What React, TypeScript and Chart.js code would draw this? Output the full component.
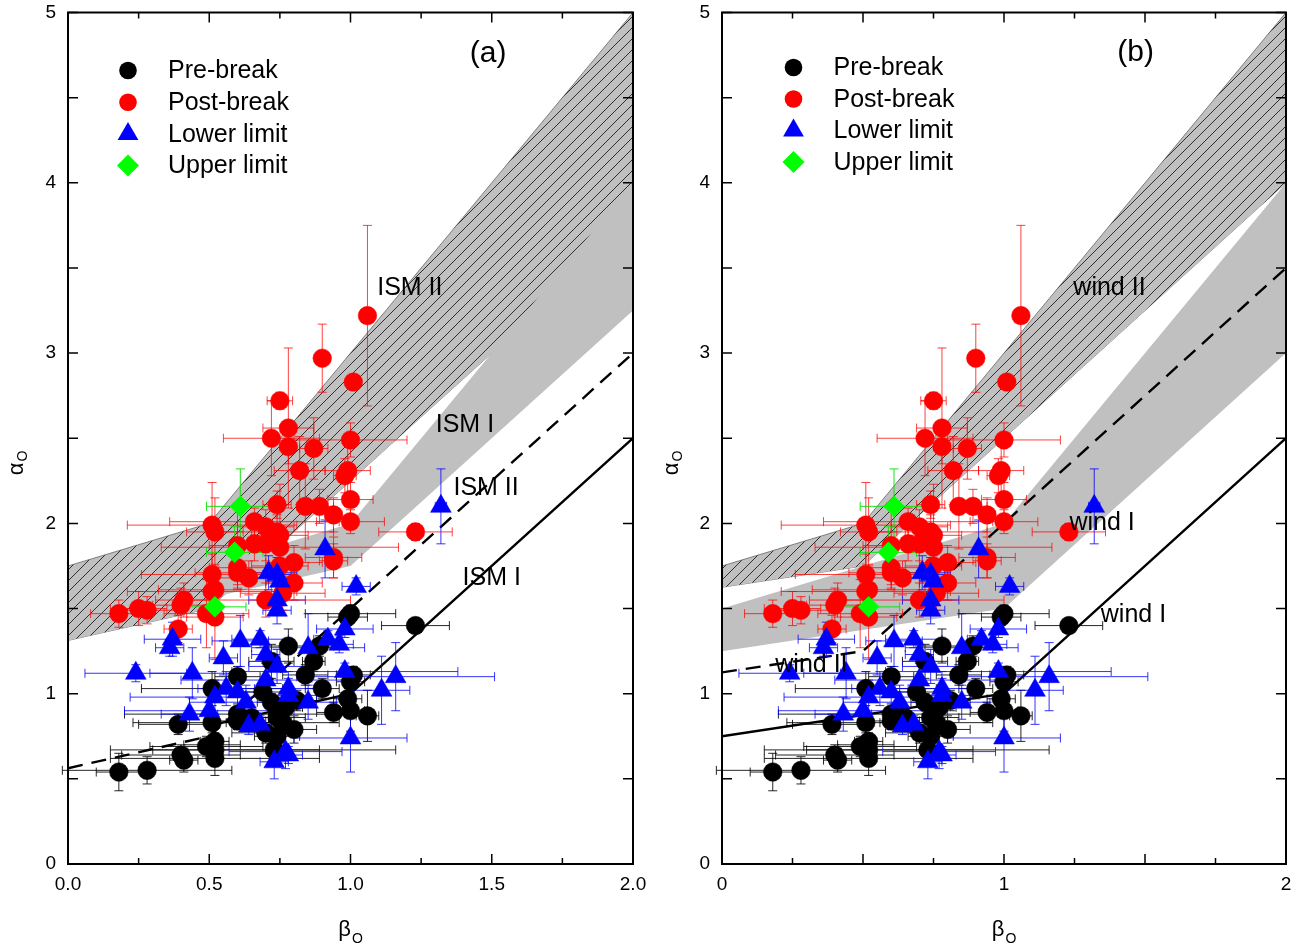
import React, { useEffect, useRef } from 'react';
import { Chart, registerables } from 'chart.js';

Chart.register(...registerables);

const FONT = '"Liberation Sans", Arial, Helvetica, sans-serif';

// ---------------- observed sample (same in both panels) ----------------
const seriesNames = ['Pre-break', 'Post-break', 'Lower limit', 'Upper limit'];

const preX = [0.18, 0.28, 0.41, 0.40, 0.52, 0.52, 0.49, 0.52, 0.51, 0.39, 0.51, 0.60, 0.51, 0.60, 0.78, 0.89, 0.87, 0.84, 0.90, 1.00, 0.99, 1.23, 1.01, 1.00, 0.94, 1.00, 1.06, 0.99, 0.72, 0.69, 0.74, 0.70, 0.74, 0.80, 0.76, 0.73, 0.81, 0.60, 0.65, 0.77, 0.72];
const preY = [0.54, 0.55, 0.61, 0.64, 0.62, 0.67, 0.69, 0.72, 0.70, 0.82, 0.83, 0.84, 1.03, 1.10, 1.28, 1.28, 1.19, 1.11, 1.03, 1.47, 1.45, 1.40, 1.11, 1.07, 0.89, 0.90, 0.87, 0.97, 1.19, 1.01, 0.86, 0.77, 0.75, 0.79, 0.83, 0.67, 0.96, 0.88, 0.86, 0.92, 0.95];
const preXErr = [0.08, 0.30, 0.05, 0.21, 0.37, 0.37, 0.20, 0.05, 0.10, 0.14, 0.28, 0.10, 0.25, 0.08, 0.07, 0.05, 0.04, 0.08, 0.06, 0.16, 0.07, 0.12, 0.06, 0.05, 0.06, 0.05, 0.04, 0.05, 0.08, 0.10, 0.10, 0.12, 0.08, 0.08, 0.20, 0.43, 0.07, 0.40, 0.06, 0.06, 0.05];
const preYErr = [0.11, 0.08, 0.07, 0.06, 0.10, 0.05, 0.06, 0.05, 0.05, 0.06, 0.06, 0.05, 0.10, 0.06, 0.10, 0.06, 0.06, 0.06, 0.06, 0.05, 0.05, 0.04, 0.05, 0.08, 0.06, 0.12, 0.15, 0.08, 0.10, 0.05, 0.06, 0.06, 0.06, 0.08, 0.06, 0.07, 0.06, 0.06, 0.06, 0.07, 0.05];

const postX = [1.06, 0.90, 1.01, 0.75, 0.78, 0.72, 0.78, 0.87, 1.00, 0.82, 0.99, 0.98, 0.74, 0.84, 0.89, 0.94, 1.00, 1.00, 0.51, 0.52, 0.66, 0.70, 0.74, 0.75, 1.23, 0.94, 0.80, 0.66, 0.60, 0.70, 0.75, 0.51, 0.60, 0.51, 0.52, 0.60, 0.64, 0.75, 0.80, 0.70, 0.76, 0.18, 0.25, 0.28, 0.40, 0.41, 0.39, 0.49, 0.52, 0.94];
const postY = [3.22, 2.97, 2.83, 2.72, 2.56, 2.50, 2.45, 2.44, 2.49, 2.31, 2.31, 2.28, 2.11, 2.10, 2.10, 2.05, 2.14, 2.01, 1.99, 1.95, 2.01, 1.98, 1.95, 1.93, 1.95, 1.80, 1.77, 1.88, 1.87, 1.88, 1.86, 1.70, 1.74, 1.60, 1.61, 1.71, 1.68, 1.75, 1.65, 1.55, 1.59, 1.47, 1.50, 1.49, 1.52, 1.55, 1.38, 1.47, 1.45, 1.78];
const postXErr = [0.02, 0.01, 0.01, 0.045, 0.09, 0.17, 0.03, 0.05, 0.20, 0.09, 0.08, 0.04, 0.05, 0.03, 0.05, 0.03, 0.08, 0.12, 0.30, 0.10, 0.30, 0.10, 0.20, 0.10, 0.13, 0.10, 0.10, 0.08, 0.10, 0.06, 0.42, 0.25, 0.10, 0.30, 0.20, 0.15, 0.15, 0.10, 0.10, 0.30, 0.15, 0.10, 0.10, 0.10, 0.10, 0.10, 0.05, 0.15, 0.10, 0.05];
const postYErr = [0.53, 0.20, 0.02, 0.05, 0.47, 0.22, 0.10, 0.18, 0.10, 0.20, 0.15, 0.10, 0.08, 0.25, 0.10, 0.10, 0.10, 0.07, 0.25, 0.20, 0.08, 0.10, 0.10, 0.30, 0.05, 0.12, 0.10, 0.10, 0.25, 0.10, 0.10, 0.12, 0.10, 0.10, 0.15, 0.10, 0.10, 0.10, 0.10, 0.10, 0.10, 0.08, 0.10, 0.08, 0.10, 0.10, 0.08, 0.20, 0.25, 0.10];

const lowX = [1.32, 0.91, 0.71, 0.74, 1.02, 0.75, 0.74, 0.74, 0.98, 0.37, 0.36, 0.61, 0.68, 0.92, 0.85, 0.96, 0.70, 0.55, 0.74, 0.24, 0.44, 0.70, 0.98, 1.16, 1.11, 0.78, 0.56, 0.60, 0.52, 0.63, 0.85, 0.78, 0.50, 0.43, 0.64, 0.68, 1.00, 0.77, 0.78, 0.73];
const lowY = [2.10, 1.85, 1.71, 1.70, 1.63, 1.66, 1.55, 1.49, 1.38, 1.32, 1.27, 1.31, 1.32, 1.32, 1.27, 1.29, 1.23, 1.21, 1.16, 1.12, 1.12, 1.08, 1.13, 1.10, 1.02, 1.03, 1.03, 1.01, 0.98, 0.95, 0.95, 0.99, 0.90, 0.88, 0.81, 0.82, 0.74, 0.66, 0.64, 0.60];
const lowXErr = [0.02, 0.01, 0.10, 0.05, 0.05, 0.05, 0.10, 0.05, 0.10, 0.10, 0.05, 0.10, 0.10, 0.05, 0.20, 0.05, 0.05, 0.05, 0.10, 0.18, 0.15, 0.30, 0.40, 0.35, 0.10, 0.10, 0.10, 0.10, 0.30, 0.20, 0.10, 0.10, 0.30, 0.10, 0.05, 0.05, 0.20, 0.20, 0.05, 0.05];
const lowYErr = [0.22, 0.17, 0.10, 0.10, 0.05, 0.05, 0.05, 0.08, 0.05, 0.10, 0.05, 0.15, 0.05, 0.05, 0.20, 0.05, 0.05, 0.10, 0.10, 0.05, 0.15, 0.10, 0.05, 0.20, 0.20, 0.10, 0.10, 0.10, 0.10, 0.10, 0.10, 0.10, 0.10, 0.10, 0.05, 0.05, 0.20, 0.10, 0.05, 0.10];

const upX = [0.61, 0.59, 0.52];
const upY = [2.10, 1.83, 1.51];
const upXErr = [0.12, 0.10, 0.11];
const upYErr = [0.22, 0.15, 0.08];

// ---------------- panel (a): ISM model regions ----------------
const ismIIUpperX = [0, 0.5, 2];
const ismIIUpperY = [1.75, 2.0, 5.0];
const ismIILowerX = [0, 0.5, 2];
const ismIILowerY = [1.3125, 1.5, 3.75];
const ismIUpperX = [0.5, 1, 2];
const ismIUpperY = [1.75, 2.0, 4.0];
const ismILowerX = [0.5, 1, 2];
const ismILowerY = [1.5625, 1.75, 3.25];
const ismDashX = [0, 0.5, 2];
const ismDashY = [0.5625, 0.75, 3.0];
const ismSolidX = [0.5, 1, 2];
const ismSolidY = [0.8125, 1.0, 2.5];
const ismLabelText = ['ISM II', 'ISM I', 'ISM II', 'ISM I'];
const ismLabelX = [1.21, 1.405, 1.48, 1.50];
const ismLabelY = [3.38, 2.58, 2.21, 1.68];

// ---------------- panel (b): wind model regions ----------------
const windIIUpperX = [0, 0.5, 2];
const windIIUpperY = [1.75, 2.0, 5.0];
const windIILowerX = [0, 0.5, 2];
const windIILowerY = [1.625, 1.75, 4.0];
const windIUpperX = [0, 1, 2];
const windIUpperY = [1.5, 2.0, 4.0];
const windILowerX = [0, 1, 2];
const windILowerY = [1.25, 1.5, 3.0];
const windDashX = [0, 0.5, 2];
const windDashY = [1.125, 1.25, 3.5];
const windSolidX = [0, 1, 2];
const windSolidY = [0.75, 1.0, 2.5];
const windLabelText = ['wind II', 'wind I', 'wind I', 'wind II'];
const windLabelX = [1.374, 1.348, 1.459, 0.317];
const windLabelY = [3.38, 2.0, 1.46, 1.168];

// ---------------- ticks ----------------
const xTickValsA = [0, 0.5, 1, 1.5, 2];
const xTickLabelsA = ['0.0', '0.5', '1.0', '1.5', '2.0'];
const xTickValsB = [0, 1, 2];
const xTickLabelsB = ['0', '1', '2'];
const yTickVals = [0, 1, 2, 3, 4, 5];
const yTickLabels = ['0', '1', '2', '3', '4', '5'];

const pts = (xs: number[], ys: number[]) => xs.map((x, i) => ({ x, y: ys[i] }));

function makeHatch(): any {
  const c = document.createElement('canvas');
  const s = 11;
  c.width = s;
  c.height = s;
  const g = c.getContext('2d')!;
  g.fillStyle = '#c0c0c0';
  g.fillRect(0, 0, s, s);
  g.strokeStyle = '#1e1e1e';
  g.lineWidth = 0.9;
  g.beginPath();
  g.moveTo(-1, s + 1);
  g.lineTo(s + 1, -1);
  g.moveTo(-2, 2);
  g.lineTo(2, -2);
  g.moveTo(s - 2, s + 2);
  g.lineTo(s + 2, s - 2);
  g.stroke();
  return g.createPattern(c, 'repeat');
}

function drawMarker(ctx: CanvasRenderingContext2D, style: string, x: number, y: number, r: number, color: string) {
  ctx.beginPath();
  if (style === 'circle') {
    ctx.arc(x, y, r, 0, Math.PI * 2);
  } else if (style === 'triangle') {
    for (let k = 0; k < 3; k++) {
      const a = (k * 2 * Math.PI) / 3;
      const px = x + Math.sin(a) * r;
      const py = y - Math.cos(a) * r;
      if (k === 0) ctx.moveTo(px, py);
      else ctx.lineTo(px, py);
    }
    ctx.closePath();
  } else {
    ctx.moveTo(x - r, y);
    ctx.lineTo(x, y - r);
    ctx.lineTo(x + r, y);
    ctx.lineTo(x, y + r);
    ctx.closePath();
  }
  ctx.fillStyle = color;
  ctx.fill();
}

interface Panel {
  tag: string;
  tagX: number;
  tagY: number;
  xTickVals: number[];
  xTickLabels: string[];
  xStep: number;
  yAxisWidth: number;
  padRight: number;
  hatchU: { x: number; y: number }[];
  hatchL: { x: number; y: number }[];
  plainU: { x: number; y: number }[];
  plainL: { x: number; y: number }[];
  dash: { x: number; y: number }[];
  solid: { x: number; y: number }[];
  labelText: string[];
  labelX: number[];
  labelY: number[];
  legend: { mx: number; tx: number; y0: number; dy: number };
  yTitleX: number;
}

const panelA: Panel = {
  tag: '(a)', tagX: 1.487, tagY: 4.755,
  xTickVals: xTickValsA, xTickLabels: xTickLabelsA, xStep: 0.5,
  yAxisWidth: 68, padRight: 20,
  hatchU: pts(ismIIUpperX, ismIIUpperY), hatchL: pts(ismIILowerX, ismIILowerY),
  plainU: pts(ismIUpperX, ismIUpperY), plainL: pts(ismILowerX, ismILowerY),
  dash: pts(ismDashX, ismDashY), solid: pts(ismSolidX, ismSolidY),
  labelText: ismLabelText, labelX: ismLabelX, labelY: ismLabelY,
  legend: { mx: 60, tx: 100, y0: 58, dy: 31.7 },
  yTitleX: 16,
};

const panelB: Panel = {
  tag: '(b)', tagX: 1.467, tagY: 4.765,
  xTickVals: xTickValsB, xTickLabels: xTickLabelsB, xStep: 1,
  yAxisWidth: 69, padRight: 21,
  hatchU: pts(windIIUpperX, windIIUpperY), hatchL: pts(windIILowerX, windIILowerY),
  plainU: pts(windIUpperX, windIUpperY), plainL: pts(windILowerX, windILowerY),
  dash: pts(windDashX, windDashY), solid: pts(windSolidX, windSolidY),
  labelText: windLabelText, labelX: windLabelX, labelY: windLabelY,
  legend: { mx: 71.5, tx: 111.5, y0: 55, dy: 31.5 },
  yTitleX: 18,
};

function buildChart(canvas: HTMLCanvasElement, p: Panel) {
  const hatch = makeHatch();
  const markerSets = [
    { label: seriesNames[3], data: pts(upX, upY), ex: upXErr, ey: upYErr, color: '#00ff00', err: 'rgba(0,225,0,0.9)', style: 'rectRot', r: 10.5, order: 0 },
    { label: seriesNames[2], data: pts(lowX, lowY), ex: lowXErr, ey: lowYErr, color: '#0000ff', err: 'rgba(0,0,255,0.8)', style: 'triangle', r: 12, order: 1 },
    { label: seriesNames[1], data: pts(postX, postY), ex: postXErr, ey: postYErr, color: '#ff0000', err: 'rgba(255,0,0,0.75)', style: 'circle', r: 9.3, order: 2 },
    { label: seriesNames[0], data: pts(preX, preY), ex: preXErr, ey: preYErr, color: '#000000', err: 'rgba(0,0,0,0.85)', style: 'circle', r: 9.3, order: 3 },
  ];
  const clear = 'rgba(0,0,0,0)';
  const datasets: any[] = markerSets.map((m) => ({
    type: 'scatter',
    label: m.label,
    data: m.data,
    pointStyle: m.style,
    pointRadius: m.r,
    pointHoverRadius: m.r,
    pointBackgroundColor: m.color,
    pointBorderColor: m.color,
    pointBorderWidth: 0.5,
    showLine: false,
    order: m.order,
    errX: m.ex,
    errY: m.ey,
    errColor: m.err,
  }));
  datasets.push({ type: 'line', label: 'dash', data: p.dash, borderColor: '#000', borderWidth: 2.4, borderDash: [15, 9], pointRadius: 0, fill: false, tension: 0, order: 4 });
  datasets.push({ type: 'line', label: 'solid', data: p.solid, borderColor: '#000', borderWidth: 2.4, pointRadius: 0, fill: false, tension: 0, order: 4 });
  datasets.push({ type: 'line', label: 'plainU', data: p.plainU, fill: '+1', backgroundColor: '#c0c0c0', borderColor: clear, borderWidth: 0, pointRadius: 0, tension: 0, order: 5 });
  datasets.push({ type: 'line', label: 'plainL', data: p.plainL, fill: false, borderColor: clear, borderWidth: 0, pointRadius: 0, tension: 0, order: 5 });
  datasets.push({ type: 'line', label: 'hatchU', data: p.hatchU, fill: '+1', backgroundColor: hatch, borderColor: '#555', borderWidth: 0.7, pointRadius: 0, tension: 0, order: 6 });
  datasets.push({ type: 'line', label: 'hatchL', data: p.hatchL, fill: false, borderColor: '#555', borderWidth: 0.7, pointRadius: 0, tension: 0, order: 6 });

  const errOrder = [3, 1, 2, 0];
  const errorBars = {
    id: 'errorBars',
    beforeDatasetsDraw(chart: any) {
      chart.$errDone = false;
    },
    beforeDatasetDraw(chart: any, args: any) {
      if (chart.$errDone) return;
      const ds = chart.data.datasets[args.index];
      if (!ds.errX) return;
      chart.$errDone = true;
      const { ctx, scales } = chart;
      const xs = scales.x;
      const ys = scales.y;
      const cap = 4.5;
      ctx.save();
      ctx.lineWidth = 1;
      ctx.setLineDash([]);
      for (const di of errOrder) {
        const d = chart.data.datasets[di];
        ctx.strokeStyle = d.errColor;
        d.data.forEach((pt: any, i: number) => {
          const px = xs.getPixelForValue(pt.x);
          const py = ys.getPixelForValue(pt.y);
          const ex = d.errX[i];
          const ey = d.errY[i];
          ctx.beginPath();
          if (ex > 0) {
            const l = xs.getPixelForValue(pt.x - ex);
            const r = xs.getPixelForValue(pt.x + ex);
            ctx.moveTo(l, py); ctx.lineTo(r, py);
            ctx.moveTo(l, py - cap); ctx.lineTo(l, py + cap);
            ctx.moveTo(r, py - cap); ctx.lineTo(r, py + cap);
          }
          if (ey > 0) {
            const t = ys.getPixelForValue(pt.y + ey);
            const b = ys.getPixelForValue(pt.y - ey);
            ctx.moveTo(px, t); ctx.lineTo(px, b);
            ctx.moveTo(px - cap, t); ctx.lineTo(px + cap, t);
            ctx.moveTo(px - cap, b); ctx.lineTo(px + cap, b);
          }
          ctx.stroke();
        });
      }
      ctx.restore();
    },
  };

  const decor = {
    id: 'decor',
    afterDraw(chart: any) {
      const { ctx, chartArea: a, scales } = chart;
      const xs = scales.x;
      const ys = scales.y;
      ctx.save();
      ctx.setLineDash([]);
      ctx.fillStyle = '#000';
      ctx.strokeStyle = '#000';

      // band labels
      ctx.font = `25px ${FONT}`;
      ctx.textAlign = 'center';
      ctx.textBaseline = 'middle';
      p.labelText.forEach((t, i) => {
        ctx.fillText(t, xs.getPixelForValue(p.labelX[i]), ys.getPixelForValue(p.labelY[i]));
      });
      // panel tag
      ctx.font = `30px ${FONT}`;
      ctx.fillText(p.tag, xs.getPixelForValue(p.tagX), ys.getPixelForValue(p.tagY));

      // legend
      const lm = [markerSets[3], markerSets[2], markerSets[1], markerSets[0]];
      ctx.font = `25px ${FONT}`;
      ctx.textAlign = 'left';
      lm.forEach((m, k) => {
        const yy = a.top + p.legend.y0 + k * p.legend.dy;
        drawMarker(ctx, m.style === 'rectRot' ? 'diamond' : m.style, a.left + p.legend.mx, yy, m.style === 'circle' ? 8.8 : m.style === 'triangle' ? 12 : 11, m.color);
        ctx.fillStyle = '#000';
        ctx.fillText(m.label, a.left + p.legend.tx, yy + 1);
      });

      // inward ticks
      ctx.lineWidth = 1.5;
      ctx.beginPath();
      for (let k = 0; k <= 8; k++) {
        const v = k * 0.25;
        const px = xs.getPixelForValue(v);
        const L = k % 2 === 0 ? 10 : 6;
        ctx.moveTo(px, a.bottom); ctx.lineTo(px, a.bottom - L);
        ctx.moveTo(px, a.top); ctx.lineTo(px, a.top + L);
      }
      for (let k = 0; k <= 10; k++) {
        const v = k * 0.5;
        const py = ys.getPixelForValue(v);
        const L = 10;
        ctx.moveTo(a.left, py); ctx.lineTo(a.left + L, py);
        ctx.moveTo(a.right, py); ctx.lineTo(a.right - L, py);
      }
      ctx.stroke();
      // frame
      ctx.lineWidth = 2;
      ctx.strokeRect(a.left, a.top, a.right - a.left, a.bottom - a.top);

      // axis titles
      const cx = (a.left + a.right) / 2;
      ctx.textAlign = 'left';
      ctx.textBaseline = 'alphabetic';
      ctx.font = `22px ${FONT}`;
      const wb = ctx.measureText('β').width;
      ctx.font = `14px ${FONT}`;
      const wo = ctx.measureText('O').width;
      const tot = wb + wo + 1;
      ctx.font = `22px ${FONT}`;
      ctx.fillText('β', cx - tot / 2, 936);
      ctx.font = `14px ${FONT}`;
      ctx.fillText('O', cx - tot / 2 + wb + 1, 943);

      ctx.save();
      ctx.translate(p.yTitleX, 463);
      ctx.rotate(-Math.PI / 2);
      ctx.font = `22px ${FONT}`;
      const wa = ctx.measureText('α').width;
      const tot2 = wa + wo + 1;
      ctx.fillText('α', -tot2 / 2, 7);
      ctx.font = `14px ${FONT}`;
      ctx.fillText('O', -tot2 / 2 + wa + 1, 11);
      ctx.restore();

      ctx.restore();
    },
  };

  const tickFont = { family: FONT, size: 19 };
  return new Chart(canvas, {
    type: 'scatter',
    data: { datasets },
    options: {
      responsive: false,
      animation: false,
      events: [],
      layout: { padding: { left: 0, right: p.padRight, top: 12, bottom: 0 } },
      plugins: {
        legend: { display: false },
        tooltip: { enabled: false },
      },
      scales: {
        x: {
          type: 'linear',
          min: 0,
          max: 2,
          afterFit: (s: any) => { s.height = 86; s.paddingLeft = 0; s.paddingRight = 0; },
          grid: { display: false, drawTicks: false },
          border: { display: false },
          ticks: {
            stepSize: p.xStep,
            padding: 9,
            color: '#000',
            font: tickFont,
            maxRotation: 0,
            autoSkip: false,
            callback: (v: any) => {
              const i = p.xTickVals.findIndex((t) => Math.abs(t - Number(v)) < 1e-6);
              return i >= 0 ? p.xTickLabels[i] : '';
            },
          },
        },
        y: {
          type: 'linear',
          min: 0,
          max: 5,
          afterFit: (s: any) => { s.width = p.yAxisWidth; s.paddingTop = 0; s.paddingBottom = 0; },
          grid: { display: false, drawTicks: false },
          border: { display: false },
          ticks: {
            stepSize: 1,
            padding: 12,
            color: '#000',
            font: tickFont,
            callback: (v: any) => {
              const i = yTickVals.findIndex((t) => Math.abs(t - Number(v)) < 1e-6);
              return i >= 0 ? yTickLabels[i] : '';
            },
          },
        },
      },
    } as any,
    plugins: [errorBars, decor],
  } as any);
}

export default function App() {
  const refA = useRef<HTMLCanvasElement>(null);
  const refB = useRef<HTMLCanvasElement>(null);
  useEffect(() => {
    const ca = buildChart(refA.current!, panelA);
    const cb = buildChart(refB.current!, panelB);
    return () => {
      ca.destroy();
      cb.destroy();
    };
  }, []);
  return (
    <div style={{ position: 'fixed', left: 0, top: 0, width: 1307, height: 950, background: '#fff' }}>
      <canvas ref={refA} width={653} height={950} style={{ position: 'absolute', left: 0, top: 0, width: 653, height: 950 }} />
      <canvas ref={refB} width={654} height={950} style={{ position: 'absolute', left: 653, top: 0, width: 654, height: 950 }} />
    </div>
  );
}
